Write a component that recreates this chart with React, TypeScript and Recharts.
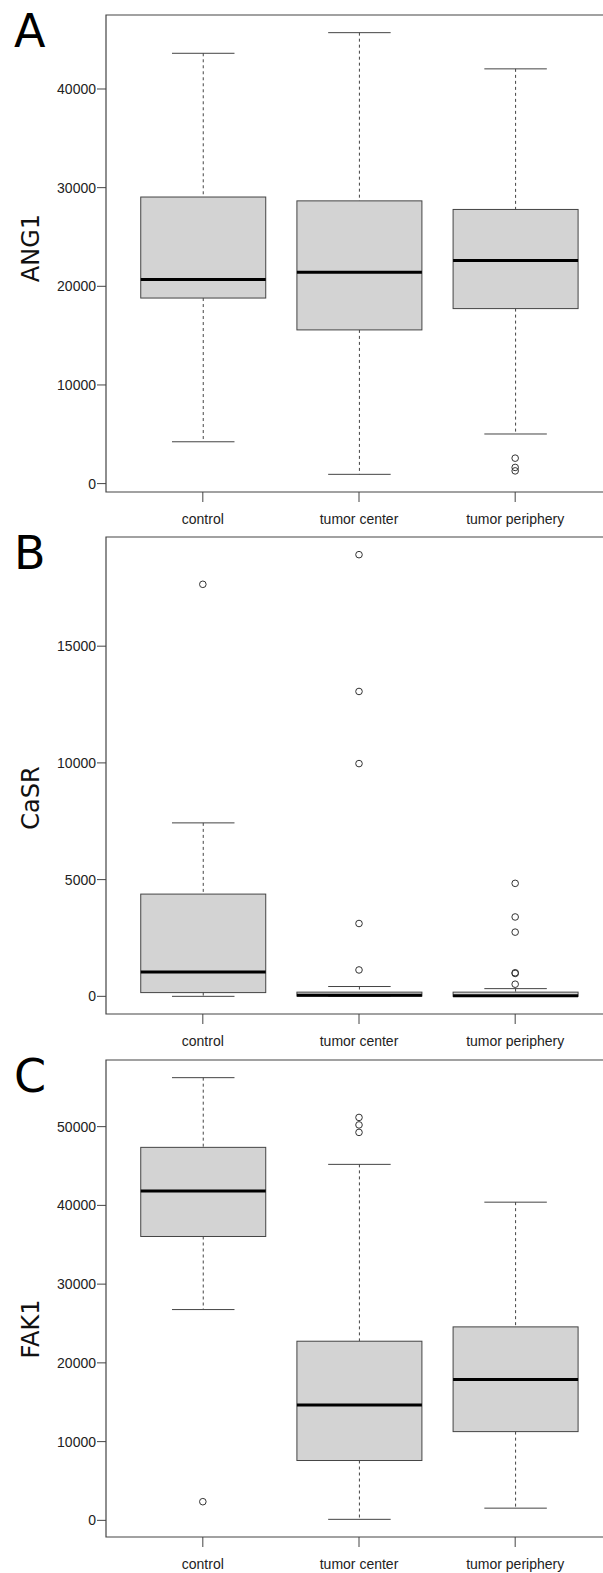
import React from 'react';
import { ComposedChart, Bar, Scatter, XAxis, YAxis, ReferenceArea } from 'recharts';

const groups = ['control', 'tumor center', 'tumor periphery'];

// A - ANG1
const ang1Lower = [4240, 940, 5030];
const ang1Q1 = [18810, 15580, 17740];
const ang1Median = [20680, 21420, 22610];
const ang1Q3 = [29050, 28660, 27790];
const ang1Upper = [43620, 45710, 42040];
const ang1Outliers = [[], [], [2580, 1640, 1290]];
const ang1Ticks = [0, 10000, 20000, 30000, 40000];

// B - CaSR
const casrLower = [0, 0, 0];
const casrQ1 = [160, 10, 0];
const casrMedian = [1040, 50, 20];
const casrQ3 = [4380, 180, 180];
const casrUpper = [7430, 420, 330];
const casrOutliers = [[17650], [18920, 13060, 9970, 3120, 1130], [4840, 3400, 2750, 1010, 980, 520]];
const casrTicks = [0, 5000, 10000, 15000];

// C - FAK1
const fak1Lower = [26770, 130, 1550];
const fak1Q1 = [36050, 7600, 11270];
const fak1Median = [41840, 14640, 17880];
const fak1Q3 = [47370, 22750, 24570];
const fak1Upper = [56220, 45210, 40410];
const fak1Outliers = [[2370], [51170, 50220, 49270], []];
const fak1Ticks = [0, 10000, 20000, 30000, 40000, 50000];

const W = 640;
const H = 538;
const M = { top: 15, right: 28, bottom: 0, left: 46 };
const Y_W = 60;
const X_H = 46;
const X_MIN = 0.38;
const X_MAX = 3.62;
const LINE = '#444';
const tickFont = { fontFamily: 'Liberation Sans, Arial, sans-serif', fontSize: 14, fill: '#222' };

const BoxShape = (props: any) => {
  const { x, y, width, height, payload } = props;
  const { lower, q1, median, q3, upper } = payload;
  // map a value onto the whisker range the bar was drawn with
  const py = (v: number) => y + ((upper - v) / (upper - lower)) * height;
  const cx = x + width / 2;
  const cap = width / 4;
  return (
    <g>
      <line x1={cx} x2={cx} y1={py(upper)} y2={py(q3)} stroke={LINE} strokeDasharray="3 3" />
      <line x1={cx} x2={cx} y1={py(q1)} y2={py(lower)} stroke={LINE} strokeDasharray="3 3" />
      <line x1={cx - cap} x2={cx + cap} y1={py(upper)} y2={py(upper)} stroke={LINE} />
      <line x1={cx - cap} x2={cx + cap} y1={py(lower)} y2={py(lower)} stroke={LINE} />
      <rect x={x} y={py(q3)} width={width} height={py(q1) - py(q3)} fill="#d3d3d3" stroke={LINE} />
      <line x1={x} x2={x + width} y1={py(median)} y2={py(median)} stroke="#000" strokeWidth={3} />
    </g>
  );
};

const Dot = (props: any) => (
  <circle cx={props.cx} cy={props.cy} r={3.3} fill="none" stroke="#333" strokeWidth={1} />
);

interface PanelProps {
  top: number;
  letter: string;
  label: string;
  labelY: number;
  lower: number[];
  q1: number[];
  median: number[];
  q3: number[];
  upper: number[];
  outliers: number[][];
  ticks: number[];
}

const Panel = ({ top, letter, label, labelY, lower, q1, median, q3, upper, outliers, ticks }: PanelProps) => {
  const rows = groups.map((g, i) => ({
    x: i + 1, name: g, lower: lower[i], q1: q1[i], median: median[i], q3: q3[i], upper: upper[i],
  }));
  const points = outliers.flatMap((vals, i) => vals.map((v) => ({ x: i + 1, y: v })));
  const all = [...lower, ...upper, ...points.map((p) => p.y)];
  const lo = Math.min(...all);
  const hi = Math.max(...all);
  const pad = (hi - lo) * 0.04;
  const yMin = lo - pad;
  const yMax = hi + pad;
  const plotW = W - M.left - Y_W - M.right;
  const boxW = Math.round((0.8 * plotW) / (X_MAX - X_MIN));

  return (
    <>
      <div style={{ position: 'absolute', left: 0, top, width: W, height: H }}>
        <ComposedChart width={W} height={H} data={rows} margin={M}>
          <XAxis
            dataKey="x" type="number" domain={[X_MIN, X_MAX]} allowDataOverflow
            ticks={[1, 2, 3]} tickFormatter={(v: number) => groups[v - 1]} interval={0}
            height={X_H} axisLine={false} tickLine={{ stroke: LINE }} tickSize={10} tickMargin={12}
            tick={tickFont}
          />
          <YAxis
            type="number" domain={[yMin, yMax]} allowDataOverflow ticks={ticks} interval={0}
            width={Y_W} axisLine={false} tickLine={{ stroke: LINE }} tickSize={9} tickMargin={1}
            tick={tickFont}
          />
          <ReferenceArea x1={X_MIN} x2={X_MAX} y1={yMin} y2={yMax} fill="none" stroke={LINE} strokeWidth={1.2} ifOverflow="visible" />
          <Bar dataKey={(d: any) => [d.lower, d.upper]} barSize={boxW} shape={<BoxShape />} isAnimationActive={false} />
          <Scatter data={points} dataKey="y" shape={<Dot />} isAnimationActive={false} />
        </ComposedChart>
      </div>
      <div style={{
        position: 'absolute', left: 14, top: top + M.top - 7, fontFamily: 'DejaVu Sans', fontSize: 46,
        lineHeight: '46px', color: '#000',
      }}>{letter}</div>
      <div style={{
        position: 'absolute', left: 31 - 100, top: labelY - 12, width: 200, height: 24, lineHeight: '24px',
        textAlign: 'center', fontFamily: 'DejaVu Sans', fontSize: 24, color: '#111', transform: 'rotate(-90deg)',
      }}>{label}</div>
    </>
  );
};

export default function App() {
  return (
    <div style={{ position: 'absolute', left: 0, top: 0, width: 603, height: 1573, overflow: 'hidden', background: '#fff' }}>
      <Panel top={0} letter="A" label="ANG1" labelY={247.5}
        lower={ang1Lower} q1={ang1Q1} median={ang1Median} q3={ang1Q3} upper={ang1Upper}
        outliers={ang1Outliers} ticks={ang1Ticks} />
      <Panel top={522} letter="B" label="CaSR" labelY={797.5}
        lower={casrLower} q1={casrQ1} median={casrMedian} q3={casrQ3} upper={casrUpper}
        outliers={casrOutliers} ticks={casrTicks} />
      <Panel top={1045} letter="C" label="FAK1" labelY={1329}
        lower={fak1Lower} q1={fak1Q1} median={fak1Median} q3={fak1Q3} upper={fak1Upper}
        outliers={fak1Outliers} ticks={fak1Ticks} />
    </div>
  );
}
